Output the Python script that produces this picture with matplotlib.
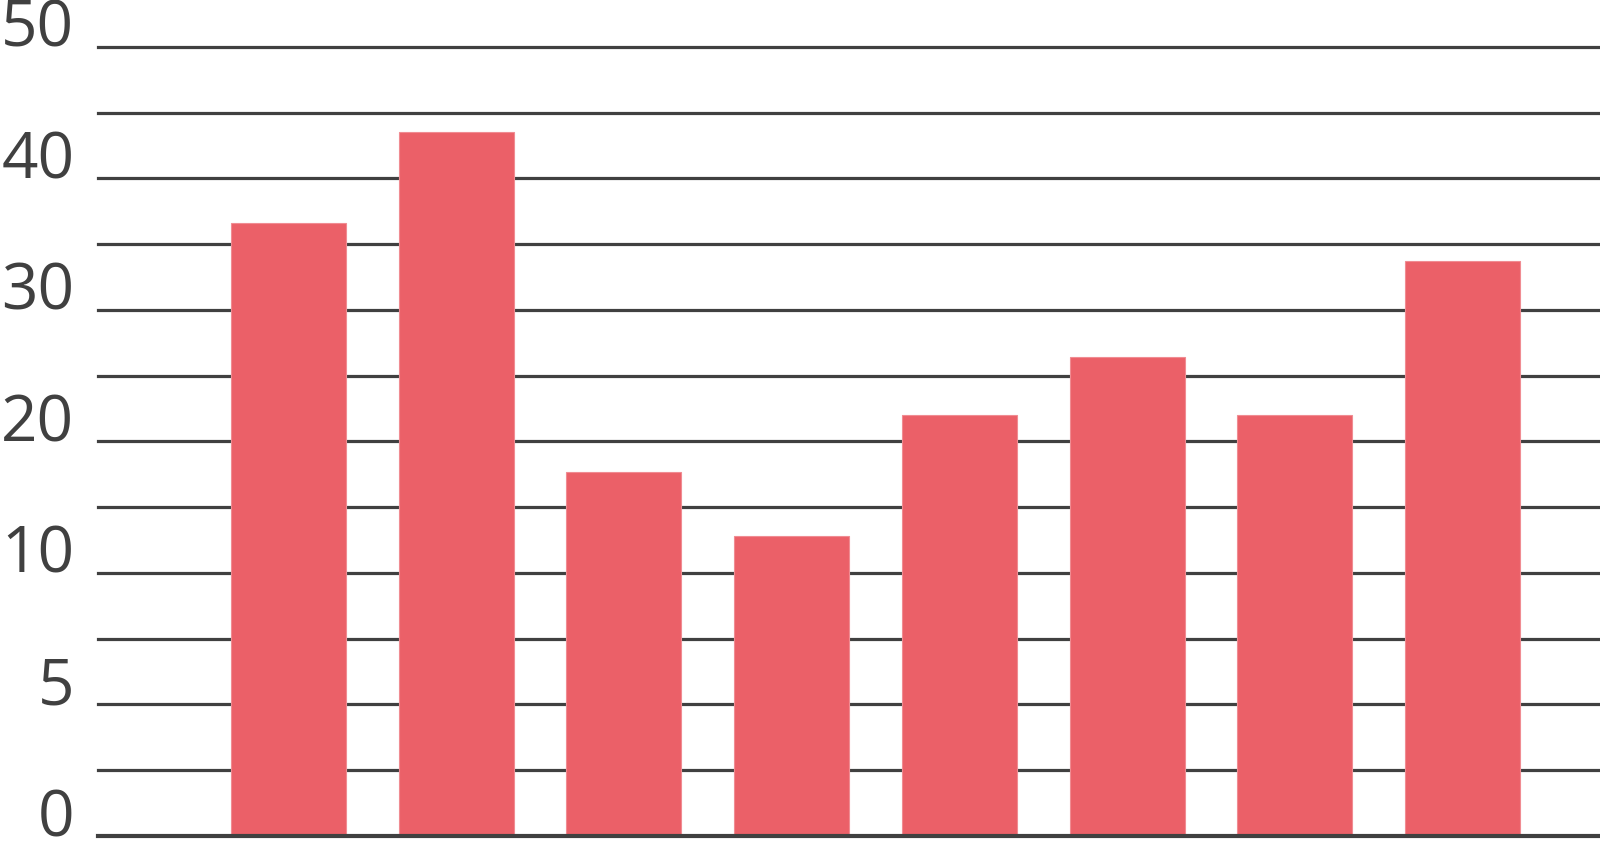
import numpy as np
import matplotlib
matplotlib.use("Agg")
import matplotlib.pyplot as plt

# data (values read in the axis' labelled units)
categories = ["A", "B", "C", "D", "E", "F", "G", "H"]
values = [36.6, 43.55, 17.7, 12.8, 22.05, 26.4, 22.05, 33.7]
tick_values = [0, 5, 10, 20, 30, 40, 50]
tick_labels = ["0", "5", "10", "20", "30", "40", "50"]
grid_values = [0, 2.5, 5, 7.5, 10, 15, 20, 25, 30, 35, 40, 45, 50]

# piecewise-linear axis: labelled ticks are evenly spaced
_vals = np.array([-50, 0, 5, 10, 20, 30, 40, 50, 100])
_pos = np.array([-20, 0, 2, 4, 6, 8, 10, 12, 22])

def fwd(y):
    return np.interp(y, _vals, _pos)

def inv(u):
    return np.interp(u, _pos, _vals)

text_color = "#404040"
bar_color = "#EB6068"

fig = plt.figure(figsize=(16, 8.44), dpi=100)
ax = fig.add_axes([98 / 1600, 0, 1 - 98 / 1600, 1])
ax.set_yscale("function", functions=(fwd, inv))

x = np.arange(len(categories))
ax.bar(x, values, width=0.686, color=bar_color, edgecolor="#F08C92",
       linewidth=0.8, zorder=3)

for i, g in enumerate(grid_values):
    ax.axhline(g, color=text_color, linewidth=2.3 if g else 3.0,
               zorder=2 if g else 4, clip_on=False)

ax.set_xlim(-1.136, 7.82)
ax.set_ylim(-0.304, 53.57)

ax.set_yticks(tick_values)
ax.set_yticklabels(tick_labels, family="Open Sans", fontsize=46, color=text_color)
for lab in ax.get_yticklabels():
    lab.set_va("baseline")
ax.tick_params(axis="y", length=0, pad=17)
ax.set_xticks([])
ax.yaxis.set_minor_locator(matplotlib.ticker.NullLocator())
for s in ax.spines.values():
    s.set_visible(False)

fig.savefig("out.png", dpi=100)
